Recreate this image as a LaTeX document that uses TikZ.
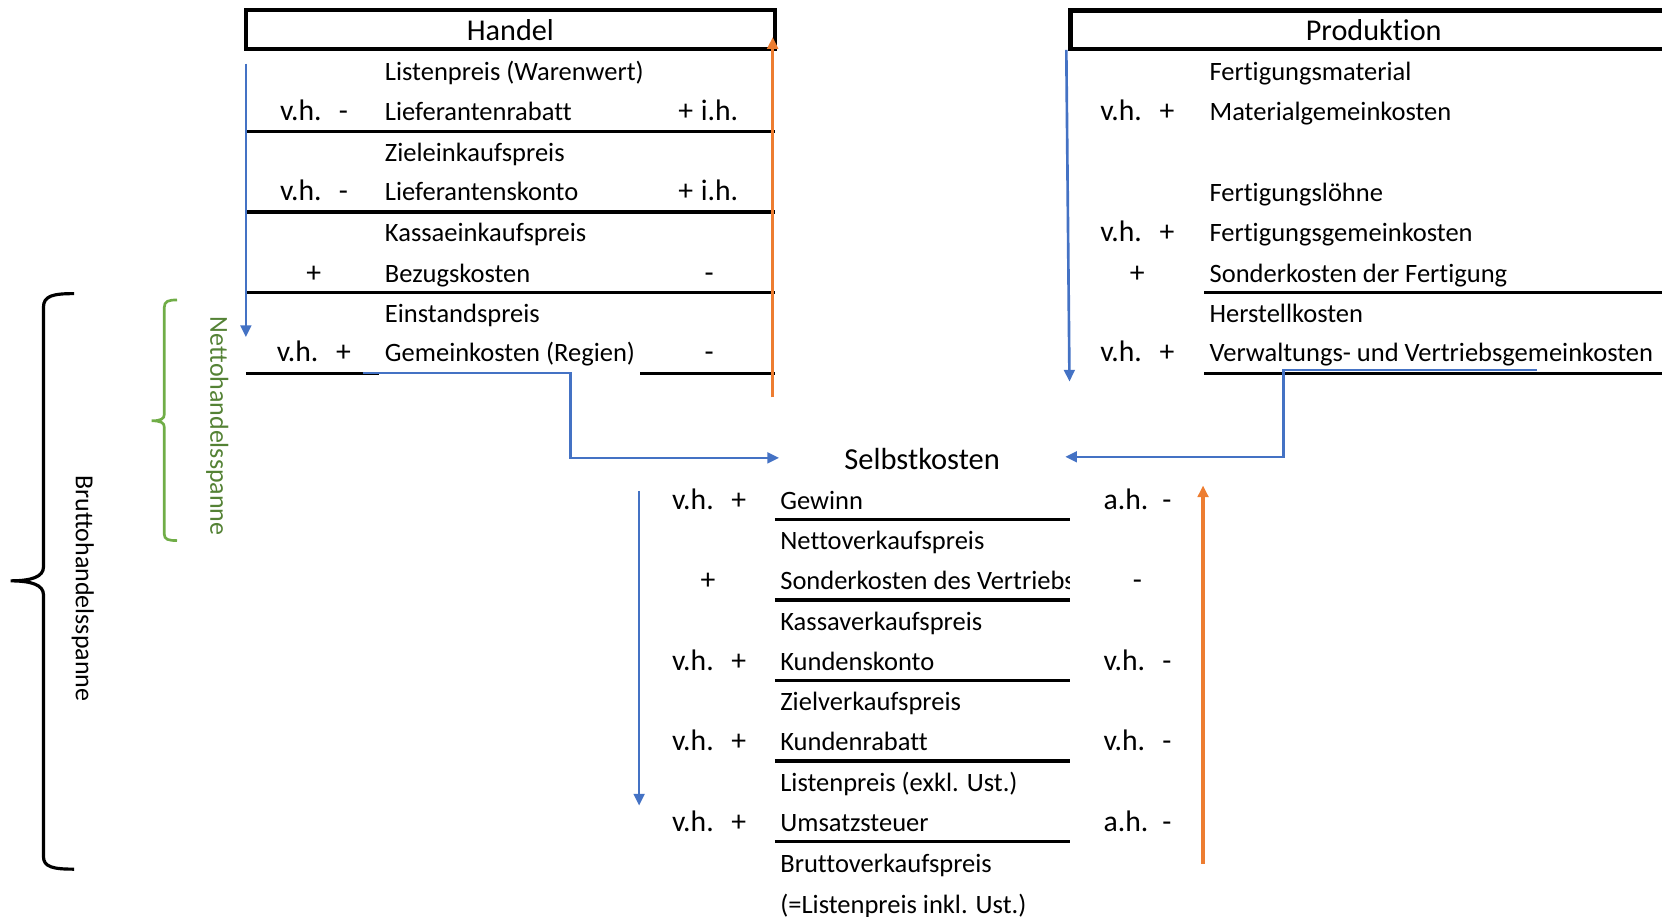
\documentclass[tikz,border=0pt]{standalone}
\usepackage{fontspec}
\setmainfont[Ligatures=NoCommon]{Carlito}
\usetikzlibrary{arrows.meta}
\definecolor{oblue}{HTML}{4472C4}
\definecolor{oorange}{HTML}{ED7D31}
\definecolor{ogreen}{HTML}{70AD47}
\definecolor{dgreen}{HTML}{548235}
\begin{document}
\begin{tikzpicture}[x=1pt,y=-1pt,
  txt/.style={anchor=mid west, inner sep=0pt, yshift=-6pt, font=\fontsize{25}{29}\selectfont},
  lbl/.style={anchor=mid west, inner sep=0pt, yshift=-6pt, font=\fontsize{28}{32}\selectfont},
  sgn/.style={anchor=mid, inner sep=0pt, yshift=-6pt, font=\fontsize{28}{32}\selectfont},
  rowline/.style={line width=3pt},
  hdrbox/.style={draw, line width=4pt, inner sep=0pt, font=\fontsize{28.5}{33}\selectfont},
  hdrtxt/.style={inner sep=0pt, font=\fontsize{28.5}{33}\selectfont},
  blu/.style={oblue, line width=2.5pt},
  bluarr/.style={blu, -{Triangle[length=11pt,width=10pt]}},
  orarr/.style={oorange, line width=3pt, -{Triangle[length=11pt,width=10pt]}},
  rottxt/.style={rotate=-90, inner sep=0pt, font=\fontsize{24.5}{29}\selectfont},
]
\useasboundingbox (0,0) rectangle (1568,865);

% ---------------- Handel ----------------
\node[hdrbox, minimum width=499pt, minimum height=37pt] (handel) at (481.5,28) {Handel};

\node[txt] (h1) at (363,68) {Listenpreis (Warenwert)};
\node[lbl] (h2vh) at (264,105) {v.h.};
\node[sgn] (h2s) at (324,105) {-};
\node[txt] (h2) at (363,105) {Lieferantenrabatt};
\node[sgn] (h2r) at (647,105) {+};
\node[lbl] (h2ih) at (661,105) {i.h.};
\node[txt] (h3) at (363,144) {Zieleinkaufspreis};
\node[lbl] (h4vh) at (264,181) {v.h.};
\node[sgn] (h4s) at (324,181) {-};
\node[txt] (h4) at (363,181) {Lieferantenskonto};
\node[sgn] (h4r) at (647,181) {+};
\node[lbl] (h4ih) at (661,181) {i.h.};
\node[txt] (h5) at (363,219) {Kassaeinkaufspreis};
\node[sgn] (h6s) at (296,258) {+};
\node[txt] (h6) at (363,258) {Bezugskosten};
\node[sgn] (h6r) at (669,258) {-};
\node[txt] (h7) at (363,296) {Einstandspreis};
\node[lbl] (h8vh) at (261,333) {v.h.};
\node[sgn] (h8s) at (324,333) {+};
\node[txt] (h8) at (363,333) {Gemeinkosten (Regien)};
\node[sgn] (h8r) at (669,333) {-};

\draw[rowline] (232,124) -- (731,124);
\draw[rowline] (232,200) -- (731,200);
\draw[rowline] (232,276) -- (731,276);
\draw[rowline] (232,352) -- (358,352);
\draw[rowline] (604,352) -- (731,352);

\coordinate (hdTop) at (232,60);
\coordinate (hdBot) at (232,318);
\draw[bluarr] (hdTop) -- (hdBot);
\coordinate (hoBot) at (729,375);
\coordinate (hoTop) at (729,35);
\draw[orarr] (hoBot) -- (hoTop);

% ---------------- Produktion ----------------
\draw[line width=4pt] (1568,10) -- (1010,10) -- (1010,46) -- (1568,46);
\node[hdrtxt] (prod) at (1296,28) {Produktion};

\node[txt] (p1) at (1141,68) {Fertigungsmaterial};
\node[lbl] (p2vh) at (1038,105) {v.h.};
\node[sgn] (p2s) at (1101,105) {+};
\node[txt] (p2) at (1141,105) {Materialgemeinkosten};
\node[txt] (p4) at (1141,182) {Fertigungslöhne};
\node[lbl] (p5vh) at (1038,219) {v.h.};
\node[sgn] (p5s) at (1101,219) {+};
\node[txt] (p5) at (1141,219) {Fertigungsgemeinkosten};
\node[sgn] (p6s) at (1073,258) {+};
\node[txt] (p6) at (1141,258) {Sonderkosten der Fertigung};
\node[txt] (p7) at (1141,296) {Herstellkosten};
\node[lbl] (p8vh) at (1038,333) {v.h.};
\node[sgn] (p8s) at (1101,333) {+};
\node[txt] (p8) at (1141,333) {Verwaltungs- und Vertriebsgemeinkosten};

\draw[rowline] (1136,276) -- (1568,276);
\draw[rowline] (1136,352) -- (1568,352);

\coordinate (pdTop) at (1006,47);
\coordinate (pdBot) at (1009,360);
\draw[bluarr] (pdTop) -- (pdBot);

% ---------------- Selbstkosten ----------------
\node[hdrtxt, font=\fontsize{28.8}{33}\selectfont] (sk) at (870,433) {Selbstkosten};

\coordinate (hcStart) at (342,352);
\coordinate (hcEnd) at (735,432);
\draw[bluarr] (hcStart) -- (538,352) -- (538,432) -- (hcEnd);
\coordinate (pcStart) at (1450,349);
\coordinate (pcEnd) at (1005,431);
\draw[bluarr] (pcStart) -- (1211,349) -- (1211,431) -- (pcEnd);

\node[lbl] (s1vh) at (634,472) {v.h.};
\node[sgn] (s1s) at (697,472) {+};
\node[txt] (s1) at (736,472) {Gewinn};
\node[lbl] (s1ah) at (1041,472) {a.h.};
\node[sgn] (s1r) at (1101,472) {-};
\node[txt] (s2) at (736,510) {Nettoverkaufspreis};
\node[sgn] (s3s) at (668,548) {+};
\begin{scope}
  \clip (731,528) rectangle (1009,566);
  \node[txt] (s3) at (736,548) {Sonderkosten des Vertriebs};
\end{scope}
\node[sgn] (s3r) at (1073,548) {-};
\node[txt] (s4) at (736,586) {Kassaverkaufspreis};
\node[lbl] (s5vh) at (634,624) {v.h.};
\node[sgn] (s5s) at (697,624) {+};
\node[txt] (s5) at (736,624) {Kundenskonto};
\node[lbl] (s5ah) at (1041,624) {v.h.};
\node[sgn] (s5r) at (1101,624) {-};
\node[txt] (s6) at (736,662) {Zielverkaufspreis};
\node[lbl] (s7vh) at (634,700) {v.h.};
\node[sgn] (s7s) at (697,700) {+};
\node[txt] (s7) at (736,700) {Kundenrabatt};
\node[lbl] (s7ah) at (1041,700) {v.h.};
\node[sgn] (s7r) at (1101,700) {-};
\node[txt] (s8) at (736,738) {Listenpreis (exkl. Ust.)};
\node[lbl] (s9vh) at (634,776) {v.h.};
\node[sgn] (s9s) at (697,776) {+};
\node[txt] (s9) at (736,776) {Umsatzsteuer};
\node[lbl] (s9ah) at (1041,776) {a.h.};
\node[sgn] (s9r) at (1101,776) {-};
\node[txt] (s10) at (736,815) {Bruttoverkaufspreis};
\node[txt] (s11) at (736,853) {(=Listenpreis inkl. Ust.)};

\draw[rowline] (731,490) -- (1009,490);
\draw[rowline] (731,566) -- (1009,566);
\draw[rowline] (731,642) -- (1009,642);
\draw[rowline] (731,718) -- (1009,718);
\draw[rowline] (731,794) -- (1009,794);

\coordinate (sdTop) at (603,463);
\coordinate (sdBot) at (603,760);
\draw[bluarr] (sdTop) -- (sdBot);
\coordinate (soBot) at (1135,815);
\coordinate (soTop) at (1135,458);
\draw[orarr] (soBot) -- (soTop);

% ---------------- Brackets ----------------
\draw[ogreen, line width=2.5pt] (167,283) .. controls (159,283) and (155,284) .. (155,290) -- (155,391)
  .. controls (155,395) and (152,397) .. (143,397) .. controls (152,397) and (155,399) .. (155,403)
  -- (155,504) .. controls (155,509) and (159,510) .. (167,510);
\node[rottxt, dgreen] (netto) at (205,402) {Nettohandelsspanne};

\draw[black, line width=3pt] (70,277) .. controls (50,277) and (41,279) .. (41,290) -- (41,535)
  .. controls (41,544) and (30,548) .. (10,548) .. controls (30,548) and (41,552) .. (41,561)
  -- (41,808) .. controls (41,818) and (50,820) .. (70,820);
\node[rottxt] (brutto) at (78,555) {Bruttohandelsspanne};
\end{tikzpicture}
\end{document}
